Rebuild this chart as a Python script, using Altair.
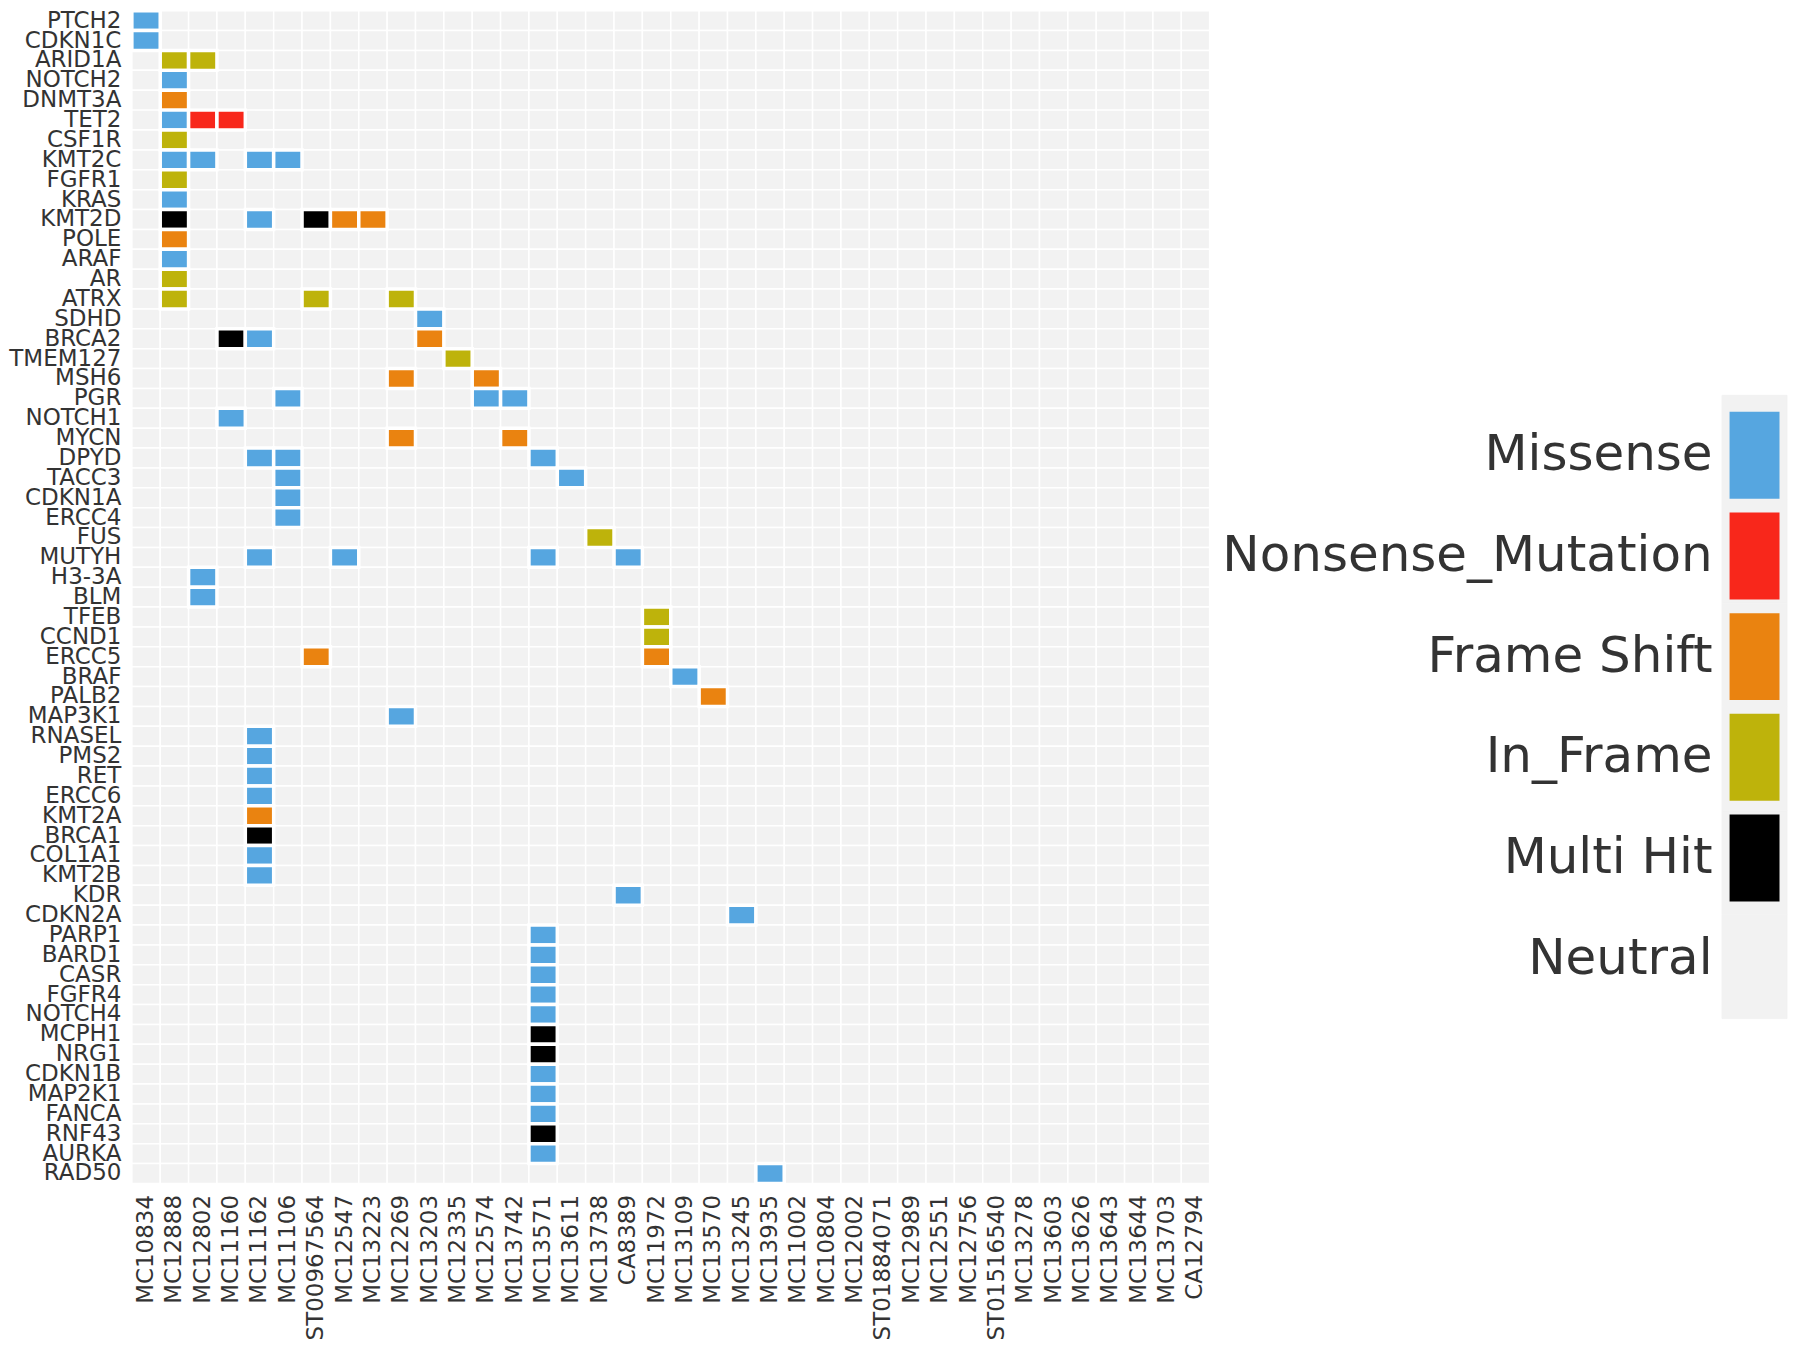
import altair as alt
import pandas as pd

genes = [
    "PTCH2", "CDKN1C", "ARID1A", "NOTCH2", "DNMT3A", "TET2", "CSF1R", "KMT2C",
    "FGFR1", "KRAS", "KMT2D", "POLE", "ARAF", "AR", "ATRX", "SDHD", "BRCA2",
    "TMEM127", "MSH6", "PGR", "NOTCH1", "MYCN", "DPYD", "TACC3", "CDKN1A",
    "ERCC4", "FUS", "MUTYH", "H3-3A", "BLM", "TFEB", "CCND1", "ERCC5", "BRAF",
    "PALB2", "MAP3K1", "RNASEL", "PMS2", "RET", "ERCC6", "KMT2A", "BRCA1",
    "COL1A1", "KMT2B", "KDR", "CDKN2A", "PARP1", "BARD1", "CASR", "FGFR4",
    "NOTCH4", "MCPH1", "NRG1", "CDKN1B", "MAP2K1", "FANCA", "RNF43", "AURKA",
    "RAD50",
]

samples = [
    "MC10834", "MC12888", "MC12802", "MC11160", "MC11162", "MC11106",
    "ST00967564", "MC12547", "MC13223", "MC12269", "MC13203", "MC12335",
    "MC12574", "MC13742", "MC13571", "MC13611", "MC13738", "CA8389",
    "MC11972", "MC13109", "MC13570", "MC13245", "MC13935", "MC11002",
    "MC10804", "MC12002", "ST01884071", "MC12989", "MC12551", "MC12756",
    "ST01516540", "MC13278", "MC13603", "MC13626", "MC13643", "MC13644",
    "MC13703", "CA12794",
]

types = ["Missense", "Nonsense_Mutation", "Frame Shift", "In_Frame", "Multi Hit", "Neutral"]
type_colors = ["#56A6E0", "#F8271B", "#EA8310", "#BEB30B", "#000000", "#F2F2F2"]

mutations = [
    ("PTCH2", "MC10834", "Missense"),
    ("CDKN1C", "MC10834", "Missense"),
    ("ARID1A", "MC12888", "In_Frame"), ("ARID1A", "MC12802", "In_Frame"),
    ("NOTCH2", "MC12888", "Missense"),
    ("DNMT3A", "MC12888", "Frame Shift"),
    ("TET2", "MC12888", "Missense"), ("TET2", "MC12802", "Nonsense_Mutation"),
    ("TET2", "MC11160", "Nonsense_Mutation"),
    ("CSF1R", "MC12888", "In_Frame"),
    ("KMT2C", "MC12888", "Missense"), ("KMT2C", "MC12802", "Missense"),
    ("KMT2C", "MC11162", "Missense"), ("KMT2C", "MC11106", "Missense"),
    ("FGFR1", "MC12888", "In_Frame"),
    ("KRAS", "MC12888", "Missense"),
    ("KMT2D", "MC12888", "Multi Hit"), ("KMT2D", "MC11162", "Missense"),
    ("KMT2D", "ST00967564", "Multi Hit"), ("KMT2D", "MC12547", "Frame Shift"),
    ("KMT2D", "MC13223", "Frame Shift"),
    ("POLE", "MC12888", "Frame Shift"),
    ("ARAF", "MC12888", "Missense"),
    ("AR", "MC12888", "In_Frame"),
    ("ATRX", "MC12888", "In_Frame"), ("ATRX", "ST00967564", "In_Frame"),
    ("ATRX", "MC12269", "In_Frame"),
    ("SDHD", "MC13203", "Missense"),
    ("BRCA2", "MC11160", "Multi Hit"), ("BRCA2", "MC11162", "Missense"),
    ("BRCA2", "MC13203", "Frame Shift"),
    ("TMEM127", "MC12335", "In_Frame"),
    ("MSH6", "MC12269", "Frame Shift"), ("MSH6", "MC12574", "Frame Shift"),
    ("PGR", "MC11106", "Missense"), ("PGR", "MC12574", "Missense"),
    ("PGR", "MC13742", "Missense"),
    ("NOTCH1", "MC11160", "Missense"),
    ("MYCN", "MC12269", "Frame Shift"), ("MYCN", "MC13742", "Frame Shift"),
    ("DPYD", "MC11162", "Missense"), ("DPYD", "MC11106", "Missense"),
    ("DPYD", "MC13571", "Missense"),
    ("TACC3", "MC11106", "Missense"), ("TACC3", "MC13611", "Missense"),
    ("CDKN1A", "MC11106", "Missense"),
    ("ERCC4", "MC11106", "Missense"),
    ("FUS", "MC13738", "In_Frame"),
    ("MUTYH", "MC11162", "Missense"), ("MUTYH", "MC12547", "Missense"),
    ("MUTYH", "MC13571", "Missense"), ("MUTYH", "CA8389", "Missense"),
    ("H3-3A", "MC12802", "Missense"),
    ("BLM", "MC12802", "Missense"),
    ("TFEB", "MC11972", "In_Frame"),
    ("CCND1", "MC11972", "In_Frame"),
    ("ERCC5", "ST00967564", "Frame Shift"), ("ERCC5", "MC11972", "Frame Shift"),
    ("BRAF", "MC13109", "Missense"),
    ("PALB2", "MC13570", "Frame Shift"),
    ("MAP3K1", "MC12269", "Missense"),
    ("RNASEL", "MC11162", "Missense"),
    ("PMS2", "MC11162", "Missense"),
    ("RET", "MC11162", "Missense"),
    ("ERCC6", "MC11162", "Missense"),
    ("KMT2A", "MC11162", "Frame Shift"),
    ("BRCA1", "MC11162", "Multi Hit"),
    ("COL1A1", "MC11162", "Missense"),
    ("KMT2B", "MC11162", "Missense"),
    ("KDR", "CA8389", "Missense"),
    ("CDKN2A", "MC13245", "Missense"),
    ("PARP1", "MC13571", "Missense"),
    ("BARD1", "MC13571", "Missense"),
    ("CASR", "MC13571", "Missense"),
    ("FGFR4", "MC13571", "Missense"),
    ("NOTCH4", "MC13571", "Missense"),
    ("MCPH1", "MC13571", "Multi Hit"),
    ("NRG1", "MC13571", "Multi Hit"),
    ("CDKN1B", "MC13571", "Missense"),
    ("MAP2K1", "MC13571", "Missense"),
    ("FANCA", "MC13571", "Missense"),
    ("RNF43", "MC13571", "Multi Hit"),
    ("AURKA", "MC13571", "Missense"),
    ("RAD50", "MC13935", "Missense"),
]

TEXT = "#333333"
FONT = "DejaVu Sans"
NEUTRAL = "#F2F2F2"
NO_VIEW = alt.ViewBackground(stroke="transparent", strokeWidth=0, fill="transparent")

grid_df = pd.DataFrame([(g, s) for g in genes for s in samples], columns=["gene", "sample"])
mut_df = pd.DataFrame(mutations, columns=["gene", "sample", "type"])
leg_df = pd.DataFrame({"type": types, "slot": ["key"] * len(types)})

x_enc = alt.X(
    "sample:N", sort=samples,
    scale=alt.Scale(domain=samples, paddingInner=0, paddingOuter=0),
    axis=alt.Axis(title=None, labelAngle=270, labelFontSize=23, labelPadding=11,
                  ticks=False, tickSize=0, domain=False, grid=False,
                  labelOverlap=False, labelLimit=0, labelColor=TEXT, labelFont=FONT),
)
y_enc = alt.Y(
    "gene:N", sort=genes,
    scale=alt.Scale(domain=genes, paddingInner=0, paddingOuter=0),
    axis=alt.Axis(title=None, labelFontSize=23, labelPadding=11, ticks=False,
                  tickSize=0, domain=False, grid=False, labelOverlap=False,
                  labelLimit=0, labelColor=TEXT, labelFont=FONT),
)
color_enc = alt.Color("type:N", scale=alt.Scale(domain=types, range=type_colors), legend=None)

base = alt.Chart(grid_df).mark_rect(fill=NEUTRAL, stroke="white", strokeWidth=1.5).encode(
    x=x_enc, y=y_enc
)
muts = alt.Chart(mut_df).mark_rect(stroke="white", strokeWidth=3.5).encode(
    x=x_enc, y=y_enc, color=color_enc
)
heat = alt.layer(base, muts).properties(width=1079, height=1174, view=NO_VIEW)

LEG_RANGE = [385, 1009]
bg = alt.Chart(leg_df).mark_rect(fill=NEUTRAL, stroke=NEUTRAL, strokeWidth=1).encode(
    x=alt.X("slot:N", scale=alt.Scale(paddingInner=0, paddingOuter=0), axis=None),
    y=alt.Y("type:N", sort=types,
            scale=alt.Scale(domain=types, range=LEG_RANGE, paddingInner=0, paddingOuter=0),
            axis=None),
)
sym = alt.Chart(leg_df).mark_rect().encode(
    x=alt.X("slot:N", scale=alt.Scale(paddingInner=0, paddingOuter=0.15), axis=None),
    y=alt.Y("type:N", sort=types,
            scale=alt.Scale(domain=types, range=LEG_RANGE, paddingInner=0.137, paddingOuter=0.164),
            axis=alt.Axis(orient="left", title=None, labelFontSize=50, labelPadding=10,
                          ticks=False, tickSize=0, domain=False, grid=False,
                          labelLimit=0, labelColor=TEXT, labelFont=FONT)),
    color=color_enc,
)
legend_panel = alt.layer(bg, sym).resolve_scale(x="independent", y="independent").properties(
    width=65, height=1174, view=NO_VIEW
)

chart = (
    alt.hconcat(heat, legend_panel, spacing=513, bounds="flush")
    .properties(padding={"left": 0, "top": 0, "right": 0, "bottom": 0}, background="white")
    .configure_view(strokeWidth=0, stroke="transparent")
    .configure(font=FONT)
)

chart.save("out.html", embed_options={"renderer": "svg", "actions": False})
